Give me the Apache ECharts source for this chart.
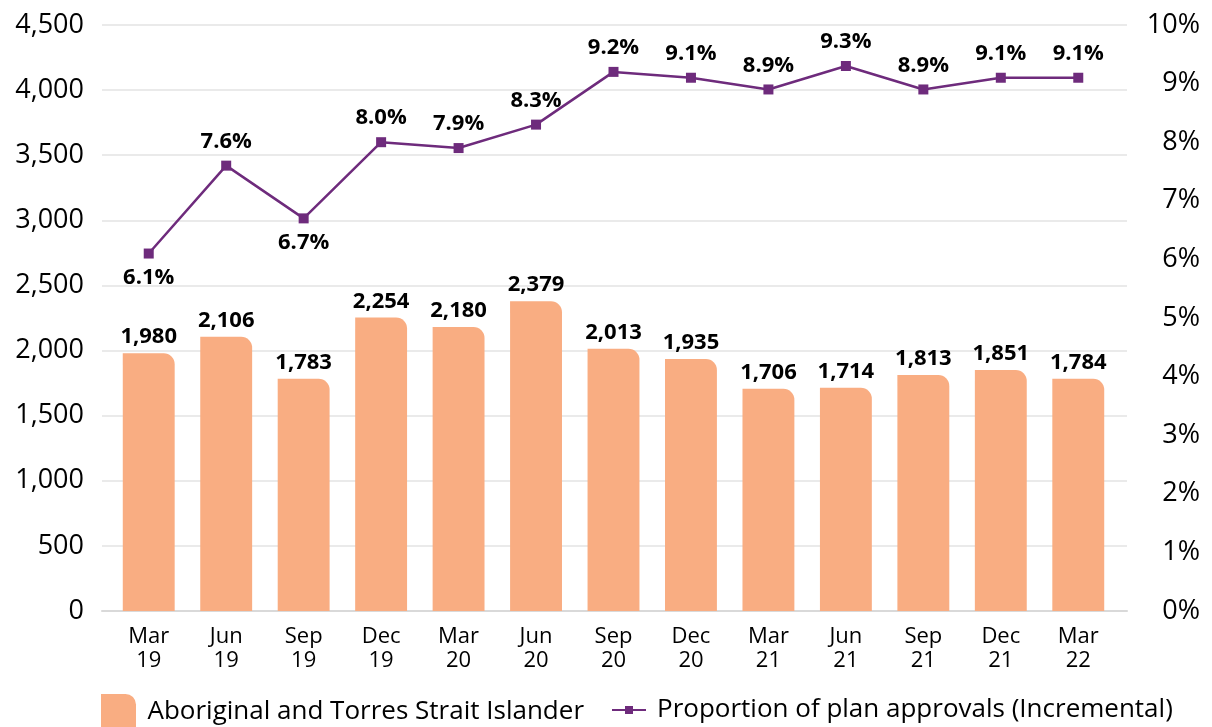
<!DOCTYPE html>
<html>
<head>
<meta charset="utf-8">
<script src="https://cdn.jsdelivr.net/npm/echarts@6/dist/echarts.min.js"></script>
<style>
  html, body { margin: 0; padding: 0; background: #fff; }
  #chart { width: 1212px; height: 727px; }
</style>
</head>
<body>
<div id="chart"></div>
<script>
// quarters
const quarters = ['Mar 19', 'Jun 19', 'Sep 19', 'Dec 19', 'Mar 20', 'Jun 20', 'Sep 20',
  'Dec 20', 'Mar 21', 'Jun 21', 'Sep 21', 'Dec 21', 'Mar 22'];
// Aboriginal and Torres Strait Islander plan approvals
const approvals = [1980, 2106, 1783, 2254, 2180, 2379, 2013, 1935, 1706, 1714, 1813, 1851, 1784];
// proportion of plan approvals (%)
const proportion = [6.1, 7.6, 6.7, 8.0, 7.9, 8.3, 9.2, 9.1, 8.9, 9.3, 8.9, 9.1, 9.1];
// which line labels sit under the point
const labelBelow = [true, false, true, false, false, false, false, false, false, false, false, false, false];

const barName = 'Aboriginal and Torres Strait Islander';
const lineName = 'Proportion of plan approvals (Incremental)';
const font = 'Open Sans';
const purple = '#6e2b7c';

const chart = echarts.init(document.getElementById('chart'));

const legendText = { fontFamily: font, fontSize: 26, color: '#000', padding: [0, 0, 0, 6] };

const option = {
  animation: false,
  textStyle: { fontFamily: font, color: '#000' },
  grid: [
    // wide grid: gridlines and left axis
    { left: 102, right: 85, top: 25, bottom: 116 },
    // plot grid: bars and line
    { left: 110, right: 95, top: 25, bottom: 116 }
  ],
  legend: [
    {
      left: 96,
      top: 689,
      itemWidth: 36,
      itemHeight: 35,
      textStyle: legendText,
      data: [{ name: barName, icon: 'path://M0,0 H70 A30,30 0 0 1 100,30 V100 H0 Z' }]
    },
    {
      left: 606,
      top: 692,
      itemWidth: 34,
      itemHeight: 10,
      textStyle: legendText,
      data: [{ name: lineName }]
    }
  ],
  xAxis: [
    {
      gridIndex: 0,
      type: 'value',
      min: 0,
      max: 1,
      axisLabel: { show: false },
      axisTick: { show: false },
      splitLine: { show: false },
      axisLine: { show: true, lineStyle: { color: '#d9d9d9', width: 2 } }
    },
    {
      gridIndex: 1,
      type: 'category',
      data: quarters,
      axisLine: { show: false },
      axisTick: { show: false },
      axisLabel: {
        margin: 14,
        fontSize: 22,
        lineHeight: 24,
        color: '#000',
        formatter: v => v.replace(' ', '\n')
      }
    }
  ],
  yAxis: [
    {
      gridIndex: 0,
      type: 'value',
      min: 0,
      max: 4500,
      interval: 500,
      axisLine: { show: false },
      axisTick: { show: false },
      axisLabel: {
        margin: 18,
        fontSize: 27,
        color: '#000',
        formatter: v => v.toLocaleString('en-US')
      },
      splitLine: { lineStyle: { color: '#e3e3e3', width: 1.5 } }
    },
    {
      gridIndex: 1,
      type: 'value',
      min: 0,
      max: 4500,
      interval: 500,
      show: false
    },
    {
      gridIndex: 1,
      type: 'value',
      position: 'right',
      min: 0,
      max: 10,
      interval: 1,
      axisLine: { show: false },
      axisTick: { show: false },
      splitLine: { show: false },
      axisLabel: {
        margin: 83,
        align: 'right',
        fontSize: 27,
        color: '#000',
        formatter: '{value}%'
      }
    }
  ],
  series: [
    {
      name: barName,
      type: 'bar',
      xAxisIndex: 1,
      yAxisIndex: 1,
      barWidth: '67%',
      data: approvals,
      itemStyle: { color: '#f9ad82', borderRadius: [0, 11, 0, 0] },
      label: {
        show: true,
        position: 'top',
        distance: 5,
        fontFamily: font,
        fontWeight: 'bold',
        fontSize: 22,
        color: '#000',
        formatter: p => p.value.toLocaleString('en-US')
      }
    },
    {
      name: lineName,
      type: 'line',
      xAxisIndex: 1,
      yAxisIndex: 2,
      data: proportion.map((v, i) => ({
        value: v,
        label: { position: labelBelow[i] ? 'bottom' : 'top' }
      })),
      symbol: 'rect',
      symbolSize: 10,
      lineStyle: { color: purple, width: 2.5 },
      itemStyle: { color: purple },
      label: {
        show: true,
        distance: 8,
        fontFamily: font,
        fontWeight: 'bold',
        fontSize: 22,
        color: '#000',
        formatter: p => p.value.toFixed(1) + '%'
      }
    }
  ]
};

chart.setOption(option);
</script>
</body>
</html>
